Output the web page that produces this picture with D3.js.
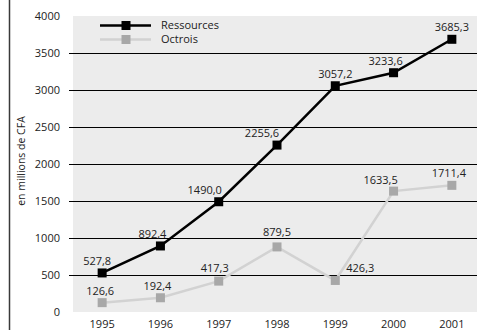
<!DOCTYPE html>
<html><head><meta charset="utf-8">
<script src="https://cdn.jsdelivr.net/npm/d3@7/dist/d3.min.js"></script>
<style>
html,body{margin:0;padding:0;background:#fff;}
svg{display:block;font-family:"Open Sans",sans-serif;}
</style></head>
<body><svg id="c" width="477" height="330"></svg>
<script>
const years = ["1995","1996","1997","1998","1999","2000","2001"];
const ressources = [527.8, 892.4, 1490.0, 2255.6, 3057.2, 3233.6, 3685.3];
const octrois = [126.6, 192.4, 417.3, 879.5, 426.3, 1633.5, 1711.4];
const yTicks = [0, 500, 1000, 1500, 2000, 2500, 3000, 3500, 4000];
const seriesNames = ["Ressources", "Octrois"];

// label offsets (layout)
const resDx = [-5, -8, -14, -15, 0, -8, 0];
const octDx = [-2, -3, -4, 0, 25, -13, -3];

const svg = d3.select("#c");
const pLeft = 73, pRight = 481, pTop = 16, pBottom = 312;
const x = d3.scalePoint().domain(years).range([pLeft, pRight]).padding(0.5);
const y = d3.scaleLinear().domain([0, 4000]).range([pBottom, pTop]);
const fmt = v => d3.format(".1f")(v).replace(".", ",");

svg.append("rect").attr("x", pLeft).attr("y", pTop).attr("width", pRight - pLeft).attr("height", pBottom - pTop).attr("fill", "#ececec");

// left border
svg.append("line").attr("x1", 9.5).attr("x2", 9.5).attr("y1", 0).attr("y2", 330).attr("stroke", "#3a3a3a").attr("stroke-width", 1.5);

// gridlines
svg.append("g").selectAll("line").data(yTicks.filter(t => t > 0 && t < 4000)).join("line")
  .attr("x1", 69).attr("x2", 477).attr("y1", d => Math.round(y(d)) + 0.5).attr("y2", d => Math.round(y(d)) + 0.5)
  .attr("stroke", "#000").attr("stroke-width", 1.2);

// y tick labels
svg.append("g").selectAll("text").data(yTicks).join("text")
  .attr("x", 60).attr("y", d => y(d)).attr("dy", "0.35em").attr("text-anchor", "end")
  .attr("font-size", 11).attr("fill", "#222").text(d => d);

// x labels
svg.append("g").selectAll("text").data(years).join("text")
  .attr("x", d => x(d)).attr("y", 328).attr("text-anchor", "middle")
  .attr("font-size", 11).attr("fill", "#222").text(d => d);

// y title
svg.append("text").attr("transform", "translate(25,161) rotate(-90)").attr("text-anchor", "middle")
  .attr("font-size", 10.5).attr("fill", "#222").text("en millions de CFA");

const line = d3.line().x((d, i) => x(years[i])).y(d => y(d));
const ms = 9;

function drawSeries(vals, lineColor, markColor, dx, dyArr) {
  svg.append("path").datum(vals).attr("d", line).attr("fill", "none")
    .attr("stroke", lineColor).attr("stroke-width", 2.5);
  svg.append("g").selectAll("rect").data(vals).join("rect")
    .attr("x", (d, i) => x(years[i]) - ms / 2).attr("y", d => y(d) - ms / 2)
    .attr("width", ms).attr("height", ms).attr("fill", markColor);
  svg.append("g").selectAll("text").data(vals).join("text")
    .attr("x", (d, i) => x(years[i]) + dx[i]).attr("y", (d, i) => y(d) - dyArr[i])
    .attr("text-anchor", "middle").attr("font-size", 11).attr("fill", "#222").text(d => fmt(d));
}
drawSeries(octrois, "#d2d2d2", "#a8a8a8", octDx, [8, 8, 9, 11, 8, 7, 8]);
drawSeries(ressources, "#000", "#000", resDx, [8, 8, 8, 8, 8, 8, 8]);

// legend
const lg = svg.append("g");
const lgItems = [
  {name: seriesNames[0], lc: "#000", mc: "#000", yy: 25.5},
  {name: seriesNames[1], lc: "#d2d2d2", mc: "#a8a8a8", yy: 39.5}
];
lgItems.forEach(it => {
  lg.append("line").attr("x1", 100).attr("x2", 151).attr("y1", it.yy).attr("y2", it.yy).attr("stroke", it.lc).attr("stroke-width", 2.5);
  lg.append("rect").attr("x", 126 - 4.5).attr("y", it.yy - 4.5).attr("width", 9).attr("height", 9).attr("fill", it.mc);
  lg.append("text").attr("x", 161).attr("y", it.yy).attr("dy", "0.35em").attr("font-size", 11).attr("fill", "#222").text(it.name);
});
</script></body></html>
